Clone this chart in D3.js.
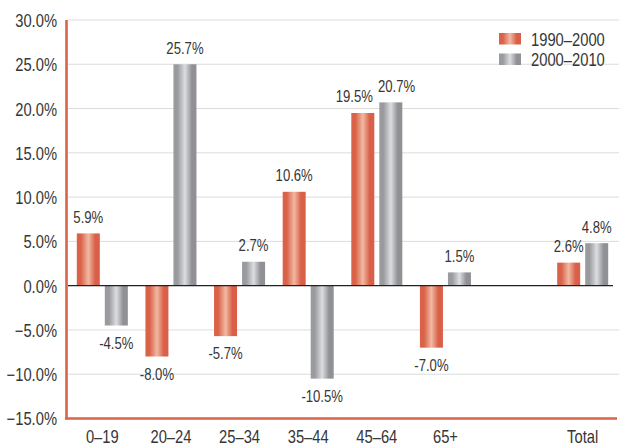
<!DOCTYPE html>
<html>
<head>
<meta charset="utf-8">
<script src="https://cdn.jsdelivr.net/npm/d3@7/dist/d3.min.js"></script>
<style>
  html, body { margin: 0; padding: 0; background: #fff; }
  svg { display: block; }
  text { font-family: "Liberation Sans", Arial, sans-serif; fill: #363636; }
</style>
</head>
<body>
<svg id="chart" width="619" height="447"></svg>
<script>
// ---- data ----
const categories = ["0–19", "20–24", "25–34", "35–44", "45–64", "65+", "", "Total"];
const seriesNames = ["1990–2000", "2000–2010"];
// bar heights as drawn in the picture (percent)
const values1990 = [5.9, -8.0, -5.7, 10.6, 19.5, -7.0, null, 2.6];
const values2000 = [-4.5, 25.0, 2.7, -10.5, 20.7, 1.5, null, 4.8];
// printed value labels
const labels1990 = ["5.9%", "-8.0%", "-5.7%", "10.6%", "19.5%", "-7.0%", null, "2.6%"];
const labels2000 = ["-4.5%", "25.7%", "2.7%", "-10.5%", "20.7%", "1.5%", null, "4.8%"];
const yTicks = [30, 25, 20, 15, 10, 5, 0, -5, -10, -15];

// ---- layout ----
const svg = d3.select("#chart");
const pLeft = 68, pRight = 617, pTop = 20, pBottom = 418.5;
const SX = 0.82; // horizontal condensing of the font

const x0 = d3.scaleBand().domain(categories.map((c, i) => i)).range([pLeft, pRight]).padding(0);
const x1 = d3.scaleBand().domain([0, 1]).range([0, x0.bandwidth()]).paddingInner(0.1786).paddingOuter(0.314);
const y = d3.scaleLinear().domain([-15, 30]).range([pBottom, pTop]);

// gradients
const defs = svg.append("defs");
function grad(id, edgeL, mid, edgeR) {
  const g = defs.append("linearGradient").attr("id", id).attr("x1", "0%").attr("x2", "100%").attr("y1", "0%").attr("y2", "0%");
  g.append("stop").attr("offset", "0%").attr("stop-color", edgeL);
  g.append("stop").attr("offset", "18%").attr("stop-color", edgeL);
  g.append("stop").attr("offset", "50%").attr("stop-color", mid);
  g.append("stop").attr("offset", "80%").attr("stop-color", edgeR);
  g.append("stop").attr("offset", "100%").attr("stop-color", edgeR);
}
grad("gRed", "#da6249", "#f1b9a3", "#d95f48");
grad("gGray", "#9a9b9f", "#dcdddf", "#909195");
const fills = ["url(#gRed)", "url(#gGray)"];

// gridlines
svg.append("g").selectAll("line").data(yTicks.filter(t => t !== 0 && t !== -15)).join("line")
  .attr("x1", pLeft).attr("x2", 619)
  .attr("y1", d => y(d)).attr("y2", d => y(d))
  .attr("stroke", "#dcdcdc").attr("stroke-width", 1);

// y axis labels via d3 axis
const yAxis = svg.append("g").attr("transform", `translate(${pLeft},0)`)
  .call(d3.axisLeft(y).tickValues(yTicks).tickFormat(d => d3.format(".1f")(d) + "%").tickSize(0).tickPadding(11));
yAxis.select(".domain").remove();
yAxis.selectAll("text")
  .style("font-family", '"Liberation Sans", Arial, sans-serif').style("font-size", "18px").attr("fill", "#363636")
  .attr("x", -11 / SX).attr("dy", "0.36em").attr("transform", `scale(${SX},1)`);

// bars
const series = [values1990, values2000];
const labels = [labels1990, labels2000];
const barG = svg.append("g");
const labelG = svg.append("g");
const labelNodes = [];
series.forEach((vals, s) => {
  const data = vals.map((v, i) => ({ i, v, s, label: labels[s][i] })).filter(d => d.v !== null);
  barG.selectAll(null).data(data).join("rect")
    .attr("x", d => x0(d.i) + x1(s))
    .attr("width", x1.bandwidth())
    .attr("y", d => y(Math.max(0, d.v)))
    .attr("height", d => Math.abs(y(d.v) - y(0)))
    .attr("fill", fills[s]);
  data.forEach(d => {
    d.tx = x0(d.i) + x1(s) + x1.bandwidth() / 2;
    d.ty = d.v >= 0 ? y(d.v) - 10.5 : y(d.v) + 23;
    labelNodes.push(d);
  });
});
const lbl = labelG.selectAll("text").data(labelNodes).join("text")
  .attr("text-anchor", "middle")
  .style("font-size", "16px")
  .text(d => d.label);
// measure and push apart labels of the same group that would collide
lbl.each(function (d) { d.w = this.getComputedTextLength() * SX; });
categories.forEach((c, i) => {
  const a = labelNodes.find(d => d.i === i && d.s === 0);
  const b = labelNodes.find(d => d.i === i && d.s === 1);
  if (!a || !b) return;
  if (Math.abs(a.ty - b.ty) < 16) {
    const overlap = (a.tx + a.w / 2 + 5) - (b.tx - b.w / 2);
    if (overlap > 0) { a.tx -= overlap * 0.6; b.tx += overlap * 0.4; }
  }
});
lbl.attr("transform", d => `translate(${d.tx},${d.ty}) scale(${SX},1)`);

// zero line
svg.append("line").attr("x1", pLeft).attr("x2", 613).attr("y1", y(0)).attr("y2", y(0))
  .attr("stroke", "#222").attr("stroke-width", 1.2);

// axes lines (red frame)
svg.append("line").attr("x1", pLeft - 1.5).attr("x2", pLeft - 1.5).attr("y1", pTop).attr("y2", pBottom + 1)
  .attr("stroke", "#d9634b").attr("stroke-width", 2.6);
svg.append("line").attr("x1", pLeft - 2.8).attr("x2", pRight).attr("y1", pBottom).attr("y2", pBottom)
  .attr("stroke", "#d9634b").attr("stroke-width", 2.6);

// x labels
const xAxis = svg.append("g").attr("transform", `translate(0,${pBottom})`)
  .call(d3.axisBottom(x0).tickFormat(i => categories[i]).tickSize(0).tickPadding(12));
xAxis.select(".domain").remove();
xAxis.selectAll("text")
  .style("font-family", '"Liberation Sans", Arial, sans-serif').style("font-size", "18px").attr("fill", "#363636")
  .attr("transform", `scale(${SX},1)`);

// legend
const legend = svg.append("g");
seriesNames.forEach((name, s) => {
  legend.append("rect").attr("x", 499).attr("y", 33 + s * 20.5).attr("width", 22).attr("height", 11.5).attr("fill", fills[s]);
  legend.append("text").attr("transform", `translate(531,${45.5 + s * 20.5}) scale(${SX},1)`).style("font-size", "18px").text(name);
});
</script>
</body>
</html>
